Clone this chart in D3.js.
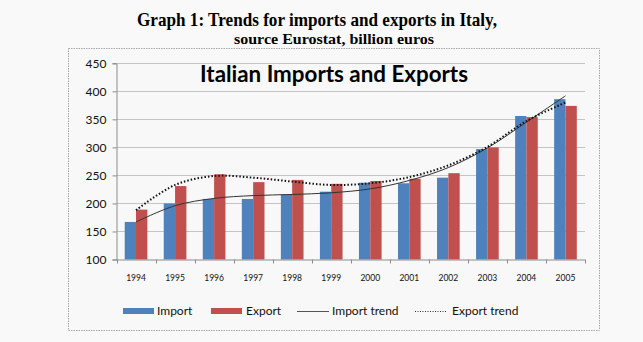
<!DOCTYPE html>
<html>
<head>
<meta charset="utf-8">
<script src="https://cdn.jsdelivr.net/npm/d3@7/dist/d3.min.js"></script>
<style>
  html, body { margin: 0; padding: 0; background: #f9f9f9; }
  svg { display: block; }
</style>
</head>
<body>
<svg id="chart" width="643" height="342"></svg>
<script>
// Italian trade, billion euros (Eurostat)
const years = ["1994","1995","1996","1997","1998","1999","2000","2001","2002","2003","2004","2005"];
const imports = [167, 200, 208, 208, 216, 221, 237, 236, 246, 297, 356, 386];
const exports = [189, 231, 252, 238, 242, 235, 240, 244, 254, 300, 354, 374];
// Smoothed trend values at each year
const importTrend = [167, 196, 209, 214, 216, 219, 226, 241, 264, 299, 345, 392];
const exportTrend = [188, 233, 249, 246, 239, 233, 236, 247, 268, 301, 347, 380];
const yTicks = [100, 150, 200, 250, 300, 350, 400, 450];

const colImport = "#4f81bd";
const colExport = "#c0504d";

const svg = d3.select("#chart");

// Page heading
svg.append("text")
  .attr("x", 317).attr("y", 26)
  .attr("text-anchor", "middle")
  .attr("textLength", 360).attr("lengthAdjust", "spacingAndGlyphs")
  .style("font-family", "'Liberation Serif', 'Times New Roman', serif")
  .style("font-weight", "bold").style("font-size", "19px")
  .text("Graph 1: Trends for imports and exports in Italy,");
svg.append("text")
  .attr("x", 334).attr("y", 44)
  .attr("text-anchor", "middle")
  .attr("textLength", 200).attr("lengthAdjust", "spacingAndGlyphs")
  .style("font-family", "'Liberation Serif', 'Times New Roman', serif")
  .style("font-weight", "bold").style("font-size", "15px")
  .text("source Eurostat, billion euros");

// Chart frame
svg.append("rect")
  .attr("x", 68.5).attr("y", 48.5).attr("width", 531).attr("height", 282)
  .attr("fill", "#f8f8f8")
  .attr("stroke", "#a8a8a8").attr("stroke-width", 1)
  .attr("stroke-dasharray", "1.5,1");

const plot = { left: 116.5, right: 585, top: 63.3, bottom: 259.5 };

const x = d3.scaleBand().domain(years).range([plot.left, plot.right]).paddingInner(0.42).paddingOuter(0.21);
const xc = d3.scaleBand().domain(years).range([plot.left, plot.right]);
const sub = d3.scaleBand().domain(["import", "export"]).range([0, x.bandwidth()]);
const y = d3.scaleLinear().domain([100, 450]).range([plot.bottom, plot.top]);

// Gridlines
svg.append("g")
  .selectAll("line").data(yTicks.slice(1)).join("line")
  .attr("x1", plot.left).attr("x2", plot.right)
  .attr("y1", d => Math.round(y(d)) + 0.5).attr("y2", d => Math.round(y(d)) + 0.5)
  .attr("stroke", "#c4c4c4").attr("stroke-width", 1);

// Y axis
const yAxis = svg.append("g")
  .attr("transform", `translate(${plot.left},0)`)
  .call(d3.axisLeft(y).tickValues(yTicks).tickSize(4).tickPadding(6));
yAxis.select(".domain").attr("stroke", "#8c8c8c");
yAxis.selectAll(".tick line").attr("stroke", "#8c8c8c");
yAxis.selectAll("text")
  .style("font-family", "Lato, 'Open Sans', sans-serif")
  .style("font-size", "12px").attr("fill", "#111");

// Bars
const groups = svg.append("g").selectAll("g").data(years).join("g")
  .attr("transform", d => `translate(${x(d)},0)`);
groups.append("rect")
  .attr("x", sub("import")).attr("width", sub.bandwidth())
  .attr("y", (d, i) => y(imports[i]))
  .attr("height", (d, i) => y(100) - y(imports[i]))
  .attr("fill", colImport);
groups.append("rect")
  .attr("x", sub("export")).attr("width", sub.bandwidth())
  .attr("y", (d, i) => y(exports[i]))
  .attr("height", (d, i) => y(100) - y(exports[i]))
  .attr("fill", colExport);

// X axis with ticks between categories
const xAxisG = svg.append("g").attr("transform", `translate(0,${plot.bottom})`);
xAxisG.append("line")
  .attr("x1", plot.left).attr("x2", plot.right)
  .attr("y1", 0.5).attr("y2", 0.5).attr("stroke", "#8c8c8c");
xAxisG.selectAll("line.tk").data(years.concat(["end"])).join("line")
  .attr("class", "tk")
  .attr("x1", (d, i) => Math.round(plot.left + i * xc.step()) + 0.5)
  .attr("x2", (d, i) => Math.round(plot.left + i * xc.step()) + 0.5)
  .attr("y1", 0).attr("y2", 4).attr("stroke", "#8c8c8c");
xAxisG.selectAll("text").data(years).join("text")
  .attr("x", d => xc(d) + xc.bandwidth() / 2)
  .attr("y", 21)
  .attr("text-anchor", "middle")
  .style("font-family", "Lato, 'Open Sans', sans-serif")
  .style("font-size", "8.5px").attr("fill", "#111")
  .text(d => d);

// Trend lines
const cx = d => xc(d) + xc.bandwidth() / 2;
const lineGen = vals => d3.line()
  .x((d, i) => cx(years[i]))
  .y(d => y(d))
  .curve(d3.curveCatmullRom.alpha(0.5))(vals);
svg.append("path")
  .attr("d", lineGen(importTrend))
  .attr("fill", "none").attr("stroke", "#333").attr("stroke-width", 1);
svg.append("path")
  .attr("d", lineGen(exportTrend))
  .attr("fill", "none").attr("stroke", "#111").attr("stroke-width", 2)
  .attr("stroke-dasharray", "1.5,2");

// Inner title
svg.append("text")
  .attr("x", 334).attr("y", 81.5)
  .attr("text-anchor", "middle")
  .attr("textLength", 268).attr("lengthAdjust", "spacingAndGlyphs")
  .style("font-family", "Lato, 'Open Sans', sans-serif")
  .style("font-weight", "bold").style("font-size", "23px").attr("fill", "#000")
  .text("Italian Imports and Exports");

// Legend
const lg = svg.append("g").style("font-family", "Lato, 'Open Sans', sans-serif")
  .style("font-size", "12px");
const legendY = 311;
lg.append("rect").attr("x", 123).attr("y", legendY - 3).attr("width", 31).attr("height", 6).attr("fill", colImport);
lg.append("text").attr("x", 157).attr("y", legendY + 4).attr("fill", "#111").text("Import");
lg.append("rect").attr("x", 211).attr("y", legendY - 3).attr("width", 31).attr("height", 6).attr("fill", colExport);
lg.append("text").attr("x", 246).attr("y", legendY + 4).attr("fill", "#111").text("Export");
lg.append("line").attr("x1", 297).attr("x2", 329).attr("y1", legendY + 0.5).attr("y2", legendY + 0.5)
  .attr("stroke", "#555").attr("stroke-width", 1);
lg.append("text").attr("x", 332).attr("y", legendY + 4).attr("fill", "#111").text("Import trend");
lg.append("line").attr("x1", 415).attr("x2", 446).attr("y1", legendY + 0.5).attr("y2", legendY + 0.5)
  .attr("stroke", "#333").attr("stroke-width", 1).attr("stroke-dasharray", "1,1.5");
lg.append("text").attr("x", 452).attr("y", legendY + 4).attr("fill", "#111").text("Export trend");
</script>
</body>
</html>
